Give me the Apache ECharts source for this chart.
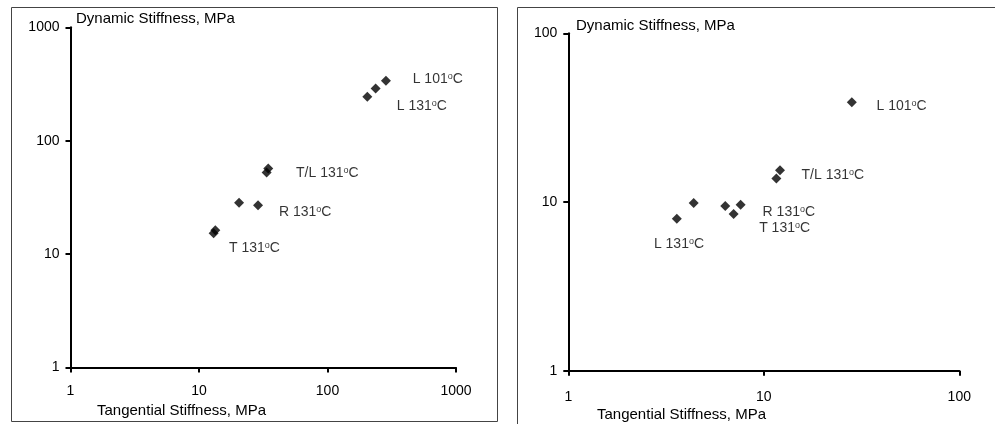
<!DOCTYPE html>
<html>
<head>
<meta charset="utf-8">
<script src="https://cdn.jsdelivr.net/npm/echarts@6/dist/echarts.min.js"></script>
<style>
html,body{margin:0;padding:0;background:#fff;}
#chart{width:995px;height:424px;}
</style>
</head>
<body>
<div id="chart"></div>
<script>
// ---- Left panel data ----
const leftX = [285, 237, 204, 34.6, 33.6, 20.5, 28.8, 13.4, 13.0];
const leftY = [338, 289, 244, 56.8, 52.4, 28.4, 26.9, 16.2, 15.3];
const leftLabelText = ['L 101', 'L 131', 'T/L 131', 'R 131', 'T 131'];
const leftLabelX = [460, 346, 56.9, 41.9, 17.1];
const leftLabelY = [350, 202, 51.6, 23.3, 11.4];
const leftTicksX = [1, 1000];
const leftTicksY = [1, 1000];

// ---- Right panel data ----
const rightX = [28.2, 12.1, 11.6, 4.38, 3.59, 6.35, 7.61, 7.01];
const rightY = [39.0, 15.4, 13.8, 9.86, 7.96, 9.47, 9.64, 8.49];
const rightLabelText = ['L 101', 'T/L 131', 'R 131', 'T 131', 'L 131'];
const rightLabelX = [37.7, 15.6, 9.86, 9.47, 2.74];
const rightLabelY = [37.1, 14.5, 8.76, 6.98, 5.64];
const rightTicksX = [1, 100];
const rightTicksY = [1, 100];

const xTitle = 'Tangential Stiffness, MPa';
const yTitle = 'Dynamic Stiffness, MPa';

const FONT = '"Liberation Sans", Arial, sans-serif';

function pairs(xs, ys) { return xs.map((x, i) => [x, ys[i]]); }
function labelData(xs, ys, txt) { return xs.map((x, i) => ({ value: [x, ys[i]], name: txt[i] })); }
const plain = v => String(Math.round(v));

function xAxisCfg(idx, range, margin) {
  return {
    type: 'log', logBase: 10, gridIndex: idx, min: range[0], max: range[1],
    axisLine: { show: true, onZero: false, lineStyle: { color: '#000', width: 2 } },
    axisTick: { show: true, inside: false, length: 5, lineStyle: { color: '#000', width: 2 } },
    axisLabel: { color: '#000', fontSize: 14, fontFamily: FONT, margin: margin, formatter: plain, showMinLabel: true, showMaxLabel: true },
    splitLine: { show: false }, minorTick: { show: false }
  };
}
function yAxisCfg(idx, range) {
  return {
    type: 'log', logBase: 10, gridIndex: idx, min: range[0], max: range[1],
    axisLine: { show: true, onZero: false, lineStyle: { color: '#000', width: 2 } },
    axisTick: { show: true, inside: false, length: 5, lineStyle: { color: '#000', width: 2 } },
    axisLabel: { color: '#000', fontSize: 14, fontFamily: FONT, margin: 11, formatter: plain, showMinLabel: true, showMaxLabel: true },
    splitLine: { show: false }, minorTick: { show: false }
  };
}
const richSup = {
  t: { fontSize: 14, fontFamily: FONT, color: '#000' },
  sup: { fontSize: 9, fontFamily: FONT, color: '#000', verticalAlign: 'top', padding: [0, 0, 5, 0] }
};
function annotSeries(idx, data) {
  return {
    type: 'scatter', xAxisIndex: idx, yAxisIndex: idx, symbolSize: 0, silent: true,
    data: data,
    label: {
      show: true, position: 'right', distance: 0,
      formatter: p => '{t|' + p.name + '}{sup|o}{t|C}',
      rich: richSup
    }
  };
}

const chart = echarts.init(document.getElementById('chart'), null, { renderer: 'canvas' });
chart.setOption({
  animation: false,
  backgroundColor: '#fff',
  title: [
    { text: yTitle, left: 76, top: 11, padding: 0, textStyle: { fontSize: 15, fontWeight: 'normal', fontFamily: FONT, color: '#000' } },
    { text: xTitle, left: 97, top: 403, padding: 0, textStyle: { fontSize: 15, fontWeight: 'normal', fontFamily: FONT, color: '#000' } },
    { text: yTitle, left: 576, top: 18, padding: 0, textStyle: { fontSize: 15, fontWeight: 'normal', fontFamily: FONT, color: '#000' } },
    { text: xTitle, left: 597, top: 407, padding: 0, textStyle: { fontSize: 15, fontWeight: 'normal', fontFamily: FONT, color: '#000' } }
  ],
  graphic: [
    { type: 'rect', shape: { x: 11.5, y: 7.5, width: 486, height: 414 }, style: { fill: 'none', stroke: '#444', lineWidth: 1 }, silent: true },
    { type: 'rect', shape: { x: 517.5, y: 7.5, width: 500, height: 430 }, style: { fill: 'none', stroke: '#444', lineWidth: 1 }, silent: true }
  ],
  grid: [
    { left: 70.5, right: 539, top: 27.3, bottom: 56.5 },
    { left: 568.3, right: 35.7, top: 33.3, bottom: 53.3 }
  ],
  xAxis: [xAxisCfg(0, leftTicksX, 17), xAxisCfg(1, rightTicksX, 19)],
  yAxis: [yAxisCfg(0, leftTicksY), yAxisCfg(1, rightTicksY)],
  series: [
    { type: 'scatter', xAxisIndex: 0, yAxisIndex: 0, symbol: 'diamond', symbolSize: 10, itemStyle: { color: '#000' }, data: pairs(leftX, leftY) },
    { type: 'scatter', xAxisIndex: 1, yAxisIndex: 1, symbol: 'diamond', symbolSize: 10, itemStyle: { color: '#000' }, data: pairs(rightX, rightY) },
    annotSeries(0, labelData(leftLabelX, leftLabelY, leftLabelText)),
    annotSeries(1, labelData(rightLabelX, rightLabelY, rightLabelText))
  ]
});
</script>
</body>
</html>
